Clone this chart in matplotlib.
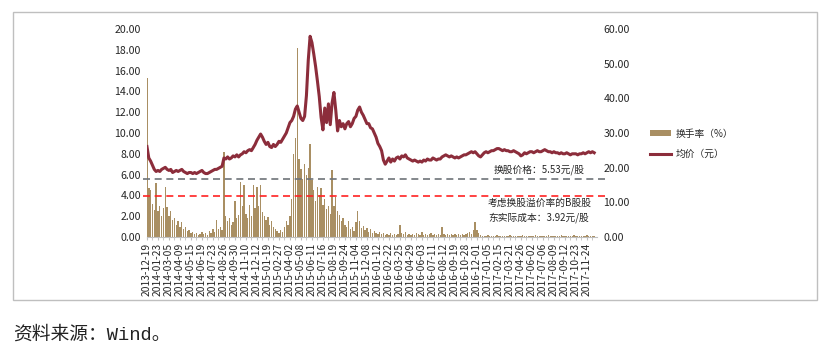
import matplotlib
matplotlib.use("Agg")
import matplotlib.pyplot as plt
from matplotlib.patches import Rectangle, Patch
from matplotlib.lines import Line2D
import numpy as np

plt.rcParams['font.family'] = ['Noto Sans CJK SC', 'DejaVu Sans']

# ---------------- data ----------------
# sampled every 4 trading days starting 2013-12-19
price = [
    8.7, 7.6, 7.3, 6.9, 6.5, 6.3, 6.4, 6.3, 6.5, 6.6,
    6.7, 6.5, 6.4, 6.5, 6.2, 6.3, 6.4, 6.3, 6.4, 6.5,
    6.3, 6.2, 6.1, 6.2, 6.2, 6.1, 6.2, 6.1, 6.2, 6.3,
    6.4, 6.2, 6.1, 6.1, 6.2, 6.3, 6.4, 6.5, 6.5, 6.6,
    6.7, 6.8, 7.6, 7.5, 7.7, 7.5, 7.6, 7.8, 7.7, 7.9,
    7.7, 7.9, 8.0, 8.2, 8.1, 8.3, 8.4, 8.3, 8.6, 8.9,
    9.3, 9.6, 9.9, 9.6, 9.2, 8.9, 9.1, 8.7, 8.6, 8.9,
    8.7, 8.9, 9.2, 9.1, 9.4, 9.7, 10.0, 10.5, 11.0, 11.2,
    11.6, 12.3, 12.6, 12.0, 11.4, 11.2, 11.6, 13.6, 17.0, 19.3,
    18.7, 17.6, 16.4, 15.0, 13.5, 11.5, 10.3, 12.4, 11.0, 12.8,
    10.8, 12.9, 13.9, 12.2, 10.2, 11.2, 10.6, 10.9, 10.4, 10.9,
    11.1, 10.6, 10.9, 11.4, 11.6, 12.2, 12.5, 12.0, 11.7, 11.3,
    10.9, 10.9, 10.5, 10.4, 10.0, 9.6, 9.0, 8.7, 8.3, 7.4,
    7.0, 7.3, 7.6, 7.2, 7.5, 7.3, 7.6, 7.7, 7.5, 7.8,
    7.7, 7.9, 7.6, 7.5, 7.4, 7.3, 7.4, 7.3, 7.2, 7.3,
    7.2, 7.4, 7.3, 7.5, 7.4, 7.4, 7.6, 7.5, 7.4, 7.5,
    7.5, 7.7, 7.8, 7.9, 7.8, 7.7, 7.8, 7.7, 7.6, 7.7,
    7.6, 7.7, 7.8, 7.9, 7.9, 8.0, 8.1, 8.2, 8.1, 8.2,
    8.0, 7.8, 7.7, 7.9, 8.1, 8.2, 8.1, 8.2, 8.3, 8.3,
    8.4, 8.5, 8.5, 8.4, 8.3, 8.4, 8.3, 8.3, 8.2, 8.2,
    8.3, 8.2, 8.1, 8.0, 7.8, 7.9, 8.1, 8.0, 8.1, 8.2,
    8.2, 8.1, 8.2, 8.3, 8.2, 8.2, 8.3, 8.4, 8.3, 8.2,
    8.2, 8.1, 8.2, 8.1, 8.1, 8.0, 8.1, 8.0, 8.0, 8.1,
    8.0, 7.9, 8.0, 8.0, 8.0, 7.9, 8.0, 8.0, 8.1, 8.0,
    8.1, 8.2, 8.1, 8.2, 8.1,
]

turnover = [
    45.9, 14.0, 13.5, 9.6, 7.8, 15.6, 7.5, 9.0, 6.0, 8.4,
    14.4, 8.7, 6.0, 7.5, 4.8, 5.4, 3.6, 4.5, 3.0, 4.2,
    2.4, 3.0, 1.8, 2.1, 1.2, 1.5, 0.9, 1.2, 0.6, 0.9,
    1.5, 0.9, 1.2, 0.6, 1.8, 1.2, 2.4, 1.5, 4.8, 2.4,
    3.0, 2.1, 24.6, 6.0, 4.5, 5.4, 3.6, 4.2, 10.5, 5.4,
    6.3, 15.9, 9.0, 15.0, 6.6, 5.4, 9.3, 6.0, 15.0, 8.4,
    14.4, 9.0, 15.0, 7.2, 6.0, 4.8, 5.7, 3.6, 4.5, 3.0,
    2.4, 1.8, 1.2, 2.1, 1.5, 3.0, 4.5, 3.6, 6.0, 11.1,
    24.0, 28.5, 54.6, 22.5, 19.5, 16.8, 21.0, 18.0, 20.0, 26.7,
    16.5, 13.5, 10.5, 14.4, 12.0, 14.1, 9.3, 11.1, 8.1, 9.0,
    6.6, 19.2, 9.0, 11.4, 7.5, 6.3, 4.5, 5.4, 3.6, 3.0,
    4.5, 2.4, 3.0, 1.8, 4.2, 7.5, 4.5, 2.7, 3.3, 2.1,
    2.7, 1.5, 2.4, 1.2, 1.8, 1.2, 0.9, 1.5, 0.9, 1.2,
    0.6, 0.9, 0.6, 1.2, 0.6, 0.9, 0.6, 0.9, 3.6, 1.2,
    0.9, 1.5, 0.6, 0.9, 0.6, 0.9, 0.6, 1.2, 0.9, 0.6,
    1.5, 0.6, 0.9, 0.6, 0.9, 1.2, 0.6, 0.9, 0.6, 0.9,
    0.6, 3.0, 0.9, 0.6, 0.9, 0.6, 0.9, 0.6, 0.9, 0.6,
    0.9, 0.6, 0.9, 0.6, 0.9, 1.2, 1.5, 0.9, 2.1, 4.2,
    2.1, 1.2, 0.6, 0.3, 0.4, 0.3, 0.5, 0.3, 0.4, 0.3,
    0.3, 0.5, 0.3, 0.4, 0.3, 0.3, 0.4, 0.3, 0.5, 0.3,
    0.4, 0.3, 0.3, 0.4, 0.3, 0.5, 0.3, 0.4, 0.3, 0.3,
    0.4, 0.3, 0.5, 0.3, 0.4, 0.3, 0.3, 0.4, 0.3, 0.5,
    0.3, 0.4, 0.3, 0.3, 0.4, 0.3, 0.5, 0.3, 0.4, 0.3,
    0.3, 0.4, 0.3, 0.5, 0.3, 0.4, 0.3, 0.3, 0.4, 0.3,
    0.5, 0.3, 0.4, 0.3, 0.4,
]

date_labels = [
    "2013-12-19", "2014-01-23", "2014-03-05", "2014-04-09", "2014-05-15",
    "2014-06-19", "2014-07-23", "2014-08-26", "2014-09-30", "2014-11-10",
    "2014-12-12", "2015-01-19", "2015-02-27", "2015-04-02", "2015-05-08",
    "2015-06-11", "2015-07-16", "2015-08-19", "2015-09-24", "2015-11-04",
    "2015-12-08", "2016-01-12", "2016-02-22", "2016-03-25", "2016-04-29",
    "2016-06-03", "2016-07-11", "2016-08-12", "2016-09-19", "2016-10-28",
    "2016-12-01", "2017-01-05", "2017-02-15", "2017-03-21", "2017-04-26",
    "2017-06-02", "2017-07-06", "2017-08-09", "2017-09-12", "2017-10-23",
    "2017-11-24",
]

swap_price = 5.53
real_cost = 3.92

left_ticks = [0, 2, 4, 6, 8, 10, 12, 14, 16, 18, 20]
right_ticks = [0, 10, 20, 30, 40, 50, 60]

STEP = 4          # trading days per sample
LABEL_EVERY = 24  # trading days between date labels

# ---------------- figure ----------------
W, H = 831, 353
fig = plt.figure(figsize=(W / 100, H / 100), dpi=100)

def fx(px):
    return px / W

def fy(py):
    return (H - py) / H

ax_l, ax_r, ax_t, ax_b = 146.5, 596.5, 29, 237
ax = fig.add_axes([fx(ax_l), fy(ax_b), fx(ax_r - ax_l), (ax_b - ax_t) / H])

x = np.arange(len(price)) * STEP
xb = np.arange(len(turnover)) * STEP

bar_color = '#A98F63'
line_color = '#8C2D3B'
txt_color = '#262626'

ax.bar(xb, turnover, width=3.1, color=bar_color, linewidth=0, zorder=2)
ax.set_ylim(0, 60)

xmax = len(price) * STEP + 1
ax.set_xlim(-1, xmax)
tick_pos = np.arange(len(date_labels)) * LABEL_EVERY
ax.set_xticks(tick_pos)
ax.set_xticklabels(date_labels, rotation=90)
ax.set_xticks(np.arange(0, xmax, LABEL_EVERY // 2), minor=True)
ax.tick_params(axis='x', which='both', length=2.5, color='#BFBFBF', pad=2,
               labelsize=7.4, labelcolor=txt_color)
for s in ['top', 'left', 'right']:
    ax.spines[s].set_visible(False)
ax.spines['bottom'].set_color('#BFBFBF')
ax.spines['bottom'].set_linewidth(0.8)

ax2 = ax.twinx()
ax2.plot(x, price, color=line_color, linewidth=2.2, solid_joinstyle='round', zorder=3)
ax2.set_ylim(0, 20)
ax2.set_yticks(left_ticks)
ax2.set_yticklabels([f"{v:.2f}" for v in left_ticks])
ax2.yaxis.tick_left()
ax2.tick_params(axis='y', length=0, pad=4, labelsize=7.6, labelcolor=txt_color)
for s in ['top', 'left', 'right', 'bottom']:
    ax2.spines[s].set_visible(False)

# right axis for turnover (set after twinx, which resets the side)
ax.yaxis.tick_right()
ax.set_yticks(right_ticks)
ax.set_yticklabels([f"{v:.2f}" for v in right_ticks])
ax.tick_params(axis='y', which='both', left=False, right=True, labelleft=False,
               labelright=True, length=0, pad=5, labelsize=7.6,
               labelcolor=txt_color)

# reference dashed lines (slightly wider than the plot area, as in the original)
x_ext = [-9, xmax + 19]
ax2.plot(x_ext, [swap_price, swap_price], color='#6E7378', linewidth=1.2,
         dashes=(4.2, 2.8), clip_on=False, zorder=4)
ax2.plot(x_ext, [real_cost, real_cost], color='#FF2222', linewidth=1.2,
         dashes=(4.2, 2.8), clip_on=False, zorder=4)

# annotations
ax2.text(757, 6.45, f"换股价格：{swap_price:.2f}元/股", fontsize=7,
         color=txt_color, ha='left', va='center')
ax2.text(744, 3.28, "考虑换股溢价率的B股股", fontsize=7,
         color=txt_color, ha='left', va='center')
ax2.text(744, 1.84, f"东实际成本：{real_cost:.2f}元/股", fontsize=7,
         color=txt_color, ha='left', va='center')

# legend
handles = [Patch(facecolor=bar_color, edgecolor='none'),
           Line2D([0], [0], color=line_color, linewidth=2.2)]
labels = ["换手率（%）", "均价（元）"]
fig.legend(handles, labels, loc='upper left',
           bbox_to_anchor=(fx(643), fy(122)), frameon=False, fontsize=7,
           handlelength=2.2, handleheight=0.55, handletextpad=0.45,
           labelspacing=1.05, borderpad=0.2, labelcolor=txt_color)

# outer frame
fig.patches.append(Rectangle((fx(13), fy(300)), fx(817 - 13), (300 - 12) / H,
                             transform=fig.transFigure, fill=False,
                             edgecolor='#BFBFBF', linewidth=1.0))

fig.text(fx(13), fy(335), "资料来源：Wind。", fontsize=13.5,
         family=['Liberation Mono', 'Noto Sans CJK SC'], color='#222222',
         ha='left', va='center')

fig.savefig("out.png", dpi=100)
